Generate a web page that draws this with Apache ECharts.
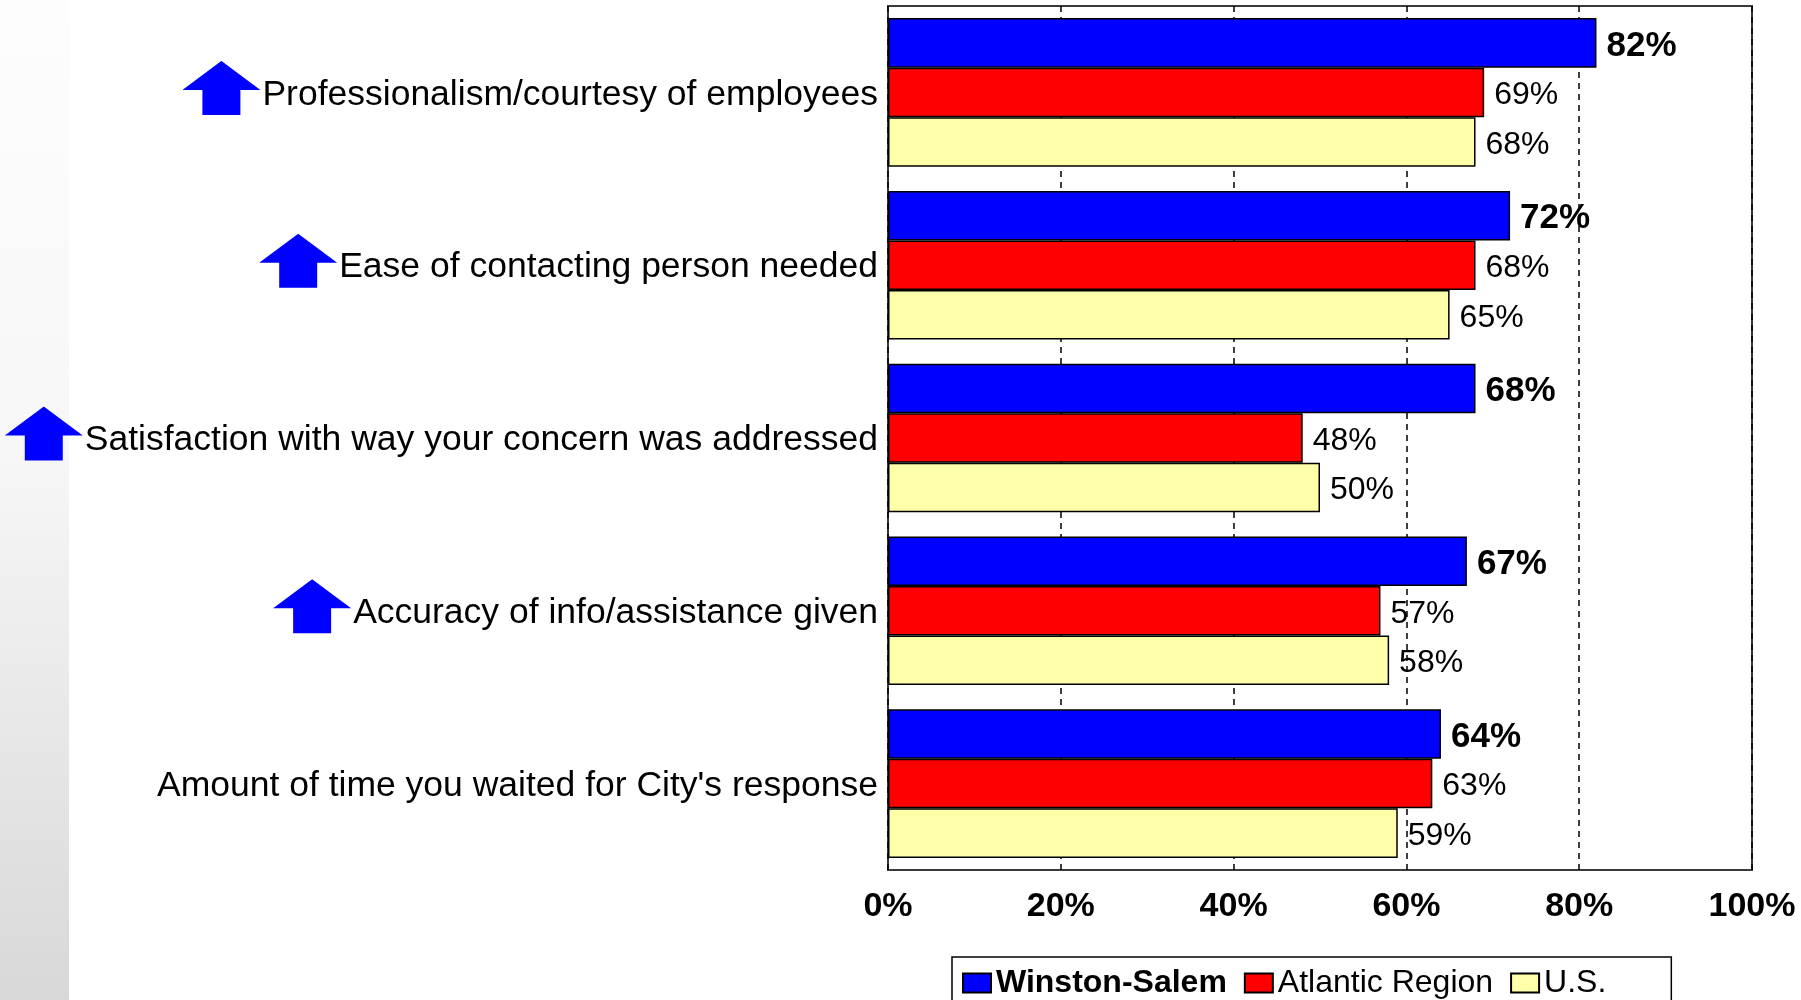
<!DOCTYPE html>
<html>
<head>
<meta charset="utf-8">
<script src="https://cdn.jsdelivr.net/npm/echarts@6/dist/echarts.min.js"></script>
<style>
  html, body { margin: 0; padding: 0; background: #ffffff; }
  #chart { width: 1801px; height: 1000px; }
</style>
</head>
<body>
<div id="chart"></div>
<script>
// Survey items, listed top to bottom
const categories = [
  'Professionalism/courtesy of employees',
  'Ease of contacting person needed',
  'Satisfaction with way your concern was addressed',
  'Accuracy of info/assistance given',
  "Amount of time you waited for City's response"
];
// Items flagged with an up arrow
const improved = [true, true, true, true, false];

const seriesNames = ['Winston-Salem', 'Atlantic Region', 'U.S.'];
const winstonSalem = [82, 72, 68, 67, 64];
const atlanticRegion = [69, 68, 48, 57, 63];
const unitedStates = [68, 65, 50, 58, 59];

const axisMin = 0;
const axisMax = 100;
const axisStep = 20;

const FONT = '"Liberation Sans", Arial, sans-serif';

// Blue up-arrow glyph used beside flagged item labels (empty strip at the
// bottom lifts the arrow slightly above the text's middle)
const arrowSvg = 'data:image/svg+xml;charset=utf-8,' + encodeURIComponent(
  '<svg xmlns="http://www.w3.org/2000/svg" width="78" height="63" viewBox="0 0 78 63">' +
  '<polygon points="0,29 39,0 78,29 58,29 58,54 20,54 20,29" fill="#0000FF"/></svg>'
);

const chart = echarts.init(document.getElementById('chart'), null, { renderer: 'canvas' });

function barSeries(name, values, color, bold) {
  return {
    name: name,
    type: 'bar',
    data: values,
    barGap: '0%',
    barCategoryGap: '14%',
    itemStyle: { color: color, borderColor: '#000000', borderWidth: 1.5 },
    label: {
      show: true,
      position: 'right',
      distance: 10,
      offset: [0, 3],
      formatter: '{c}%',
      fontFamily: FONT,
      fontSize: bold ? 35 : 32,
      fontWeight: bold ? 'bold' : 'normal',
      color: '#000000'
    },
    emphasis: { disabled: true }
  };
}

chart.setOption({
  animation: false,
  backgroundColor: '#ffffff',
  textStyle: { fontFamily: FONT },
  graphic: [{
    type: 'rect',
    z: -10,
    left: 0,
    top: 0,
    silent: true,
    shape: { width: 69, height: 1000 },
    style: {
      fill: new echarts.graphic.LinearGradient(0, 0, 0, 1, [
        { offset: 0, color: '#fdfdfd' },
        { offset: 0.45, color: '#f7f7f7' },
        { offset: 1, color: '#d8d8d8' }
      ])
    }
  }],
  grid: {
    left: 888,
    right: 49,
    top: 6,
    bottom: 130,
    show: true,
    backgroundColor: 'transparent',
    borderColor: '#3a3a3a',
    borderWidth: 2
  },
  legend: {
    left: 952,
    top: 957,
    orient: 'horizontal',
    icon: 'rect',
    itemWidth: 28,
    itemHeight: 19,
    itemGap: 17,
    padding: [10, 65, 40, 10],
    borderColor: '#000000',
    borderWidth: 1.5,
    selectedMode: false,
    textStyle: { fontFamily: FONT, fontSize: 32, color: '#000000' },
    data: [
      { name: seriesNames[0], textStyle: { fontWeight: 'bold' } },
      { name: seriesNames[1] },
      { name: seriesNames[2] }
    ]
  },
  xAxis: {
    type: 'value',
    min: axisMin,
    max: axisMax,
    interval: axisStep,
    axisLine: { show: false },
    axisTick: { show: false },
    axisLabel: {
      formatter: '{value}%',
      fontFamily: FONT,
      fontSize: 34,
      fontWeight: 'bold',
      color: '#000000',
      margin: 20
    },
    splitLine: {
      show: true,
      lineStyle: { color: '#000000', width: 1.5, type: [6, 5] }
    }
  },
  yAxis: {
    type: 'category',
    data: categories,
    inverse: true,
    axisLine: { show: false },
    axisTick: { show: false },
    axisLabel: {
      margin: 10,
      formatter: function (value, idx) {
        return improved[idx] ? '{arrow| }{txt|' + value + '}' : '{txt|' + value + '}';
      },
      rich: {
        arrow: {
          width: 78,
          height: 63,
          backgroundColor: { image: arrowSvg }
        },
        txt: {
          fontFamily: FONT,
          fontSize: 35.5,
          color: '#000000',
          padding: [5, 0, 0, 2]
        }
      }
    }
  },
  series: [
    barSeries(seriesNames[0], winstonSalem, '#0000FF', true),
    barSeries(seriesNames[1], atlanticRegion, '#FF0000', false),
    barSeries(seriesNames[2], unitedStates, '#FFFFAA', false)
  ]
});
</script>
</body>
</html>
